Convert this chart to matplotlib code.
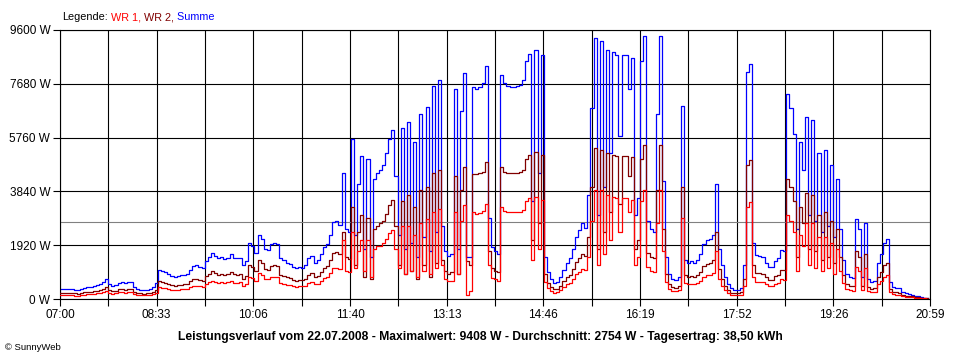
import numpy as np
import matplotlib
matplotlib.use("Agg")
import matplotlib.pyplot as plt

plt.rcParams['font.family'] = ['Liberation Sans', 'DejaVu Sans']

# Leistung alle 3 Minuten ab 07:00 (W)
summe = [
    360, 360, 350, 350, 340, 320, 310, 370, 400, 420,
    440, 470, 500, 530, 600, 700, 520, 470, 500, 580,
    600, 560, 600, 590, 430, 350, 330, 320, 330, 360,
    420, 560, 1050, 1000, 960, 880, 820, 800, 820, 850,
    870, 900, 1050, 1180, 1200, 1150, 1100, 1350, 1500, 1650,
    1550, 1450, 1500, 1420, 1480, 1600, 1460, 1450, 1480, 1200,
    1350, 2000, 1900, 1650, 2300, 2150, 1800, 1750, 1950, 2000,
    1950, 1450, 1380, 1280, 1250, 1150, 1100, 1130, 1120, 1200,
    1450, 1550, 1300, 1380, 1600, 1850, 1950, 2300, 2750, 2800,
    2650, 4500, 2500, 2400, 5700, 2300, 4100, 5100, 1800, 5000,
    1500, 4300, 4500, 4600, 4800, 5200, 5700, 6030, 4400, 2300,
    6100, 1800, 6300, 2000, 5600, 1500, 6600, 2200, 6850, 1700,
    7600, 2400, 7800, 2600, 1700, 1550, 1600, 7500, 1800, 6700,
    8050, 1500, 1500, 7550, 7500, 7550, 7700, 8300, 2900, 1850,
    1700, 1600, 8000, 7700, 7600, 7580, 7580, 7600, 7650, 7800,
    8500, 8750, 3500, 8900, 4500, 8700, 1500, 950, 700, 580,
    620, 800, 1050, 1300, 1450, 1800, 2200, 2450, 2700, 2550,
    3700, 6800, 9300, 3000, 9200, 4000, 8900, 5200, 8800, 8700,
    5800, 8700, 8700, 7500, 8600, 3000, 3600, 8500, 9400, 2800,
    2500, 2400, 6600, 9400, 4200, 1500, 900, 700, 680, 800,
    6900, 1400, 1300, 1350, 1300, 1400, 1600, 1950, 2100, 2150,
    2300, 4100, 1800, 1200, 800, 550, 380, 330, 330, 400,
    1200, 8100, 8400, 2000, 1560, 1530, 1500, 1300, 1150, 1150,
    1350, 1450, 1750, 1700, 7300, 6800, 5900, 2500, 5600, 4600,
    6500, 3000, 6400, 2800, 5200, 2400, 5300, 2600, 4800, 2200,
    4300, 2500, 1400, 900, 800, 750, 2850, 2500, 800, 2700,
    700, 600, 650, 1300, 1600, 2000, 2150, 600, 420, 400,
    380, 250, 200, 180, 150, 120, 100, 80, 50, 30,
]

wr2 = [
    220, 220, 215, 215, 210, 200, 190, 225, 240, 255,
    265, 285, 300, 320, 360, 420, 310, 285, 300, 345,
    360, 335, 360, 355, 260, 210, 200, 195, 200, 215,
    250, 335, 630, 600, 575, 530, 490, 480, 490, 510,
    520, 540, 630, 710, 720, 690, 660, 810, 900, 990,
    930, 870, 900, 850, 890, 960, 880, 870, 890, 720,
    810, 1200, 1140, 990, 1380, 1290, 1080, 1050, 1170, 1200,
    1170, 870, 830, 770, 750, 690, 660, 680, 670, 720,
    870, 930, 780, 830, 960, 1110, 1170, 1380, 1650, 1680,
    1590, 2400, 1500, 1440, 3300, 1200, 2400, 3000, 800, 2900,
    700, 2500, 2600, 2700, 2800, 3050, 3350, 3550, 2600, 1200,
    3500, 900, 3700, 1000, 3300, 700, 3900, 1200, 4000, 800,
    4500, 1300, 4600, 1400, 1000, 900, 950, 4400, 900, 3900,
    4700, 1350, 1200, 4450, 4450, 4480, 4550, 4900, 1700, 1100,
    1000, 950, 4700, 4550, 4500, 4490, 4490, 4500, 4530, 4620,
    5000, 5150, 2100, 5250, 2700, 5150, 900, 570, 420, 350,
    370, 480, 630, 780, 870, 1080, 1320, 1470, 1620, 1530,
    2200, 4000, 5400, 1800, 5300, 2400, 5200, 3100, 5150, 5100,
    3400, 5100, 5100, 4400, 5050, 1800, 2100, 5000, 5500, 1650,
    1500, 1450, 3900, 5500, 2500, 900, 540, 420, 410, 480,
    4000, 840, 780, 810, 780, 840, 960, 1170, 1260, 1290,
    1380, 2400, 1080, 720, 480, 330, 230, 200, 200, 240,
    720, 4800, 4950, 1200, 940, 920, 900, 780, 690, 690,
    810, 870, 1050, 1020, 4300, 4000, 3500, 1500, 3300, 2700,
    3800, 1800, 3700, 1700, 3000, 1400, 3100, 1500, 2800, 1300,
    2500, 1500, 840, 540, 480, 450, 1700, 1500, 480, 1600,
    420, 360, 390, 780, 960, 1200, 1290, 360, 250, 240,
    230, 150, 120, 100, 90, 70, 60, 50, 30, 20,
]

zeit_labels = ['07:00', '', '08:33', '', '10:06', '', '11:40', '', '13:13', '',
               '14:46', '', '16:19', '', '17:52', '', '19:26', '', '20:59']
y_werte = [0, 1920, 3840, 5760, 7680, 9600]
durchschnitt = 2754
titel = ('Leistungsverlauf vom 22.07.2008 - Maximalwert: 9408 W - '
         'Durchschnitt: 2754 W - Tagesertrag: 38,50 kWh')

summe = np.array(summe)
wr2 = np.array(wr2)
wr1 = summe - wr2  # WR 1 = Summe - WR 2
minuten = np.arange(len(summe)) * 3
ende = 839  # 07:00 .. 20:59

fig = plt.figure(figsize=(9.6, 3.6), dpi=100)
ax = fig.add_axes([60 / 960, 61 / 360, 870 / 960, 269 / 360])

ax.axhline(durchschnitt, color='#808080', lw=0.8, zorder=1)
ax.plot(minuten, summe, color='#0000ff', lw=0.9, drawstyle='steps-mid', zorder=2)
ax.plot(minuten, wr2, color='#800000', lw=0.9, drawstyle='steps-mid', zorder=3)
ax.plot(minuten, wr1, color='#ff0000', lw=0.9, drawstyle='steps-mid', zorder=4)

ax.set_xlim(0, ende)
ax.set_ylim(0, 9600)
ax.set_xticks(np.linspace(0, ende, len(zeit_labels)))
ax.set_xticklabels(zeit_labels)
ax.set_yticks(y_werte)
ax.set_yticklabels([f'{v} W' for v in y_werte])
ax.grid(True, color='black', lw=0.8, zorder=0)
ax.set_axisbelow(True)
for s in ax.spines.values():
    s.set_color('black')
    s.set_linewidth(0.8)
ax.tick_params(direction='out', length=5, width=0.8, labelsize=8.5, pad=2,
               colors='black')

# Legende oben links, mehrfarbig
fig.canvas.draw()
renderer = fig.canvas.get_renderer()
x = 62 / 960
for text, farbe in [('Legende:', 'black'), (' WR 1,', '#ff0000'),
                    (' WR 2,', '#800000'), (' Summe', '#0000ff')]:
    t = fig.text(x, 1 - 17 / 360, text, color=farbe, fontsize=7.8,
                 ha='left', va='center')
    bb = t.get_window_extent(renderer)
    x = bb.x1 / fig.bbox.width

fig.text(0.5, 1 - 337 / 360, titel, ha='center', va='center',
         fontsize=8.7, fontweight='bold')
fig.text(5 / 960, 1 - 348 / 360, '© SunnyWeb', ha='left', va='center',
         fontsize=6.8)

fig.savefig('out.png', dpi=100)
